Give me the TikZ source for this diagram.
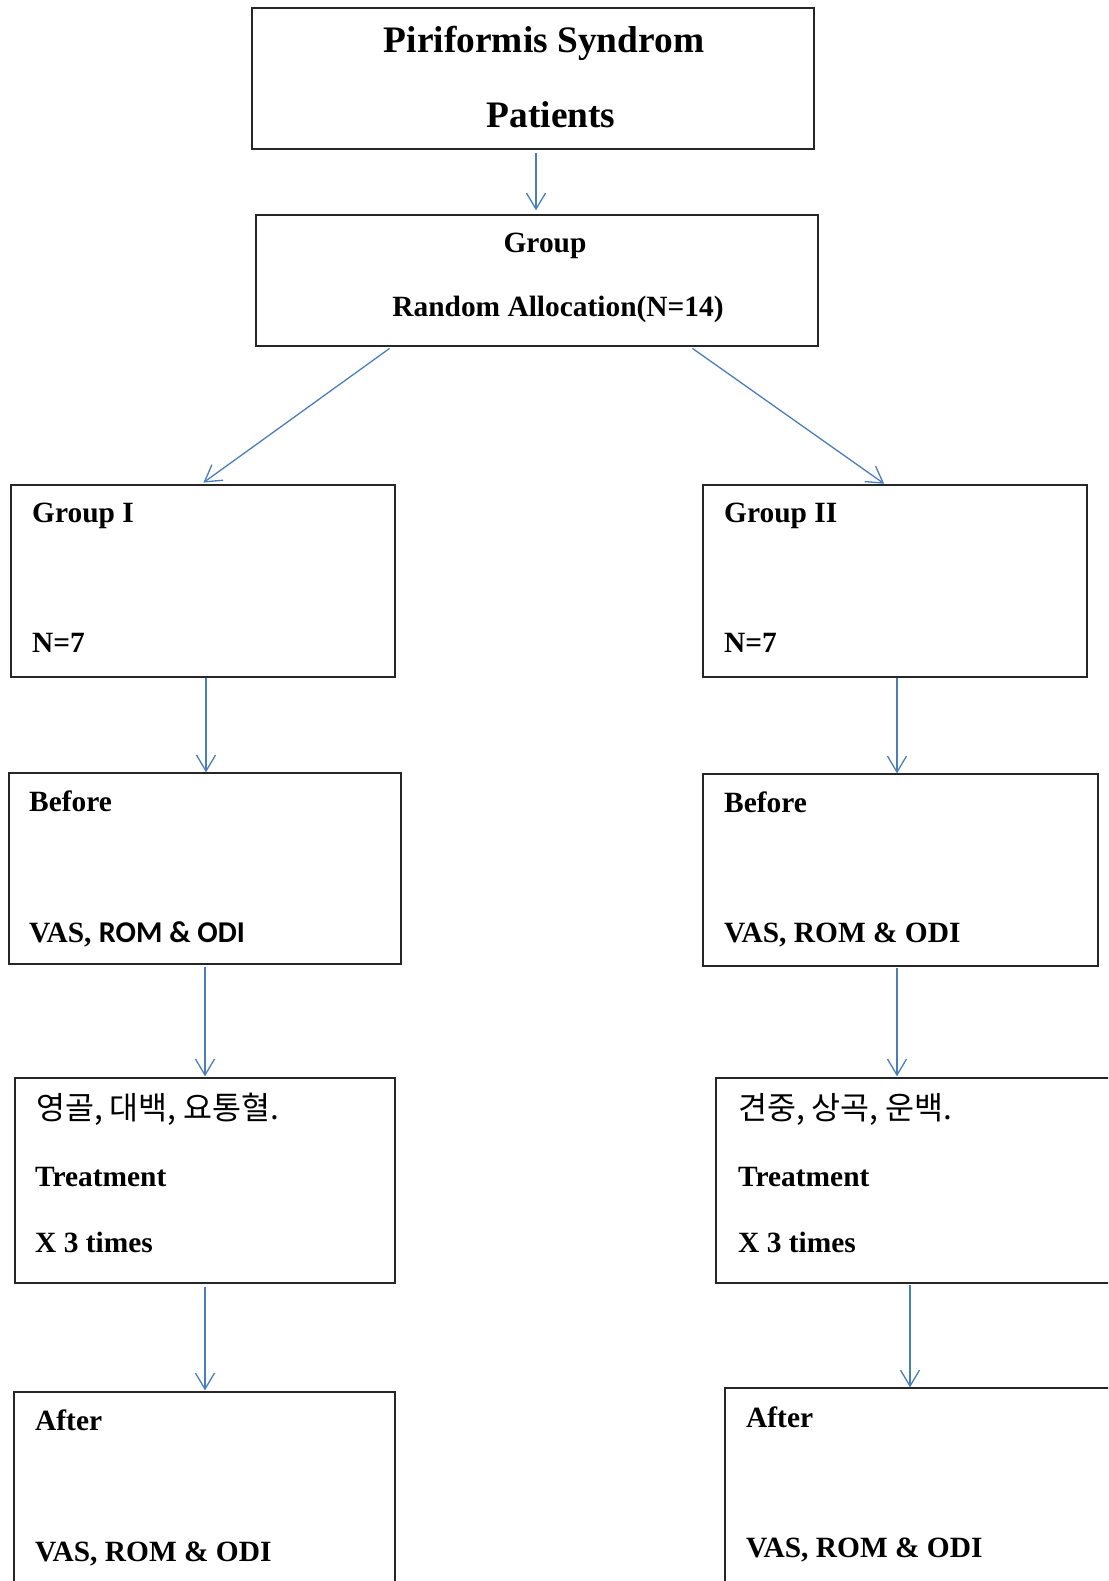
\documentclass[tikz,border=0pt]{standalone}
\usepackage{fontspec}
\setmainfont{Liberation Serif}
\newfontfamily\calibrifont{Carlito}
\newfontfamily\hangulfont{Noto Sans CJK KR}
\usetikzlibrary{arrows.meta}
\definecolor{BoxInk}{HTML}{262626}
\definecolor{FlowBlue}{HTML}{4A7EBB}
\tikzset{
  figure/.style={x=1pt,y=-1pt,font=\bfseries\fontsize{29.4}{35}\selectfont},
  panel/.style={draw=BoxInk,line width=1.3pt,inner sep=0pt},
  entry/.style={anchor=base west,inner sep=0pt},
  heading/.style={anchor=base,inner sep=0pt},
  korean/.style={entry,font=\hangulfont\fontsize{31.5}{36}\selectfont},
  flow/.style={-{Straight Barb[length=16pt,width=19pt]},line width=1.3pt,draw=FlowBlue},
}

\begin{document}
\begin{tikzpicture}[figure]
  \path[use as bounding box] (0,0) rectangle (1108,1581);
  \clip (0,0) rectangle (1108,1581);

  \node[panel,minimum width=562pt,minimum height=141pt] (patients) at (533,78.5) {};
  \node[heading,font=\bfseries\fontsize{37.4}{44}\selectfont] (patientsA) at (544,53) {Piriformis Syndrom};
  \node[heading,font=\bfseries\fontsize{37.4}{44}\selectfont] (patientsB) at (551,128) {Patients};

  \node[panel,minimum width=562pt,minimum height=131pt] (alloc) at (537,280.5) {};
  \node[heading] (allocA) at (545,252) {Group};
  \node[heading] (allocB) at (558,316) {Random Allocation(N=14)};

  \node[panel,minimum width=384pt,minimum height=192pt] (groupA) at (203,581) {};
  \node[entry] (groupAtop) at (32,522) {Group I};
  \node[entry] (groupAbot) at (32,652) {N=7};

  \node[panel,minimum width=384pt,minimum height=192pt] (groupB) at (895,581) {};
  \node[entry] (groupBtop) at (724,522) {Group II};
  \node[entry] (groupBbot) at (724,652) {N=7};

  \node[panel,minimum width=392pt,minimum height=191pt] (beforeA) at (205,868.5) {};
  \node[entry] (beforeAtop) at (29,811) {Before};
  \node[entry] (beforeAbot) at (29,942) {VAS, {\calibrifont\fontsize{30.2}{35}\selectfont ROM \& ODI}};

  \node[panel,minimum width=395pt,minimum height=192pt] (beforeB) at (900.5,870) {};
  \node[entry] (beforeBtop) at (724,812) {Before};
  \node[entry] (beforeBbot) at (724,942) {VAS, ROM \& ODI};

  \node[panel,minimum width=380pt,minimum height=205pt] (treatA) at (205,1180.5) {};
  \node[korean] (treatAtop) at (36,1119) {영골, 대백, 요통혈.};
  \node[entry] (treatAmid) at (35,1186) {Treatment};
  \node[entry] (treatAbot) at (35,1252) {X 3 times};

  \node[panel,minimum width=414pt,minimum height=205pt] (treatB) at (923,1180.5) {};
  \node[korean] (treatBtop) at (738,1119) {견중, 상곡, 운백.};
  \node[entry] (treatBmid) at (738,1186) {Treatment};
  \node[entry] (treatBbot) at (738,1252) {X 3 times};

  \node[panel,minimum width=381pt,minimum height=208pt] (afterA) at (204.5,1496) {};
  \node[entry] (afterAtop) at (35,1430) {After};
  \node[entry] (afterAbot) at (35,1561) {VAS, ROM \& ODI};

  \node[panel,minimum width=405pt,minimum height=212pt] (afterB) at (927.5,1494) {};
  \node[entry] (afterBtop) at (746,1427) {After};
  \node[entry] (afterBbot) at (746,1557) {VAS, ROM \& ODI};

  \draw[flow,shorten <=3pt,shorten >=4pt] ([xshift=3pt]patients.south) -- ([xshift=-1pt]alloc.north);
  \draw[flow,shorten <=3pt,shorten >=3pt] ([xshift=-145pt]alloc.south) -- ([xshift=-2pt]groupA.north);
  \draw[flow,shorten <=3pt,shorten >=1pt] ([xshift=153pt]alloc.south) -- ([xshift=-10pt]groupB.north);
  \draw[flow] ([xshift=3pt]groupA.south) -- ([xshift=1pt]beforeA.north);
  \draw[flow] ([xshift=2pt]groupB.south) -- ([xshift=-3.5pt]beforeB.north);
  \draw[flow,shorten <=2pt,shorten >=1pt] (beforeA.south) -- (treatA.north);
  \draw[flow,shorten <=1pt,shorten >=1pt] ([xshift=-3.5pt]beforeB.south) -- ([xshift=-26pt]treatB.north);
  \draw[flow,shorten <=3pt,shorten >=1pt] (treatA.south) -- ([xshift=0.5pt]afterA.north);
  \draw[flow,shorten <=1pt] ([xshift=-13pt]treatB.south) -- ([xshift=-17.5pt]afterB.north);
\end{tikzpicture}
\end{document}
